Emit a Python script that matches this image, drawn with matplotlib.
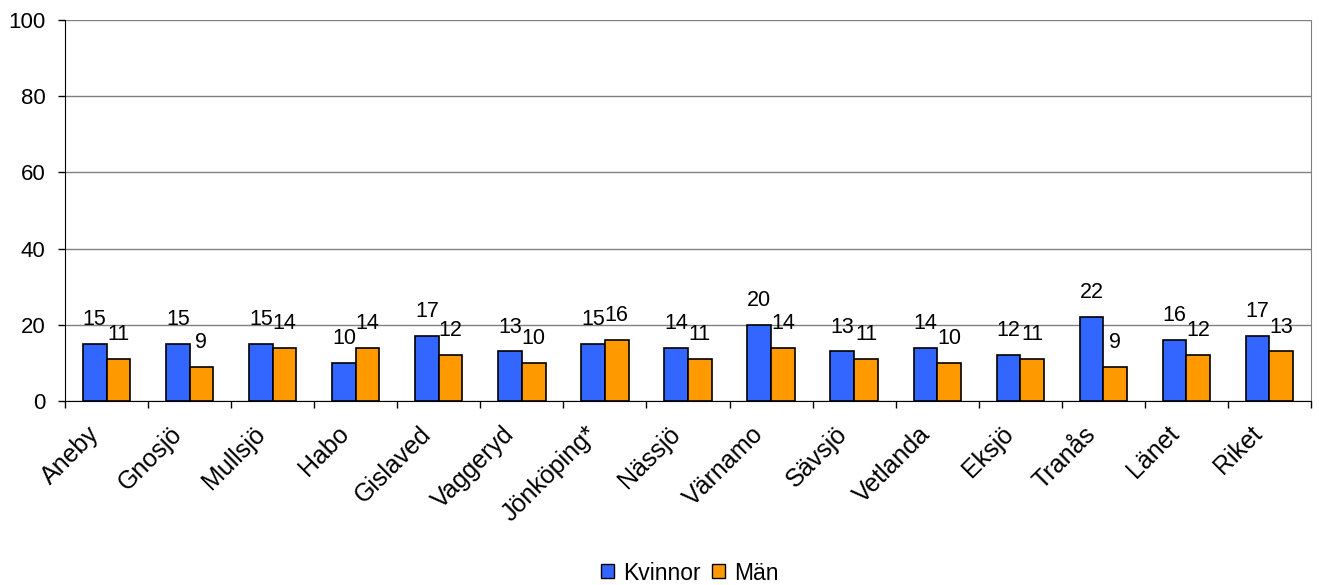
import numpy as np
import matplotlib
matplotlib.use("Agg")
import matplotlib.pyplot as plt
import matplotlib.transforms as mtransforms
from matplotlib.patches import Patch

plt.rcParams['font.family'] = ['Liberation Sans', 'DejaVu Sans']

kommuner = ["Aneby", "Gnosjö", "Mullsjö", "Habo", "Gislaved", "Vaggeryd",
            "Jönköping*", "Nässjö", "Värnamo", "Sävsjö", "Vetlanda", "Eksjö",
            "Tranås", "Länet", "Riket"]
kvinnor = [15, 15, 15, 10, 17, 13, 15, 14, 20, 13, 14, 12, 22, 16, 17]
man = [11, 9, 14, 14, 12, 10, 16, 11, 14, 11, 10, 11, 9, 12, 13]

blue = "#3366FF"
orange = "#FF9900"

fig = plt.figure(figsize=(13.19, 5.85), dpi=100)
ax = fig.add_axes([65/1319, 1 - 401/585, (1311-65)/1319, (401-20)/585])

x = np.arange(len(kommuner))
w = 0.285
b1 = ax.bar(x - w/2, kvinnor, w, color=blue, edgecolor="black", linewidth=1.2, zorder=3)
b2 = ax.bar(x + w/2, man, w, color=orange, edgecolor="black", linewidth=1.2, zorder=3)

# value labels above the bars
for bars, vals in ((b1, kvinnor), (b2, man)):
    for r, v in zip(bars, vals):
        ax.annotate(str(v), (r.get_x() + r.get_width()/2, r.get_height()),
                    xytext=(0, 10), textcoords="offset points",
                    ha="center", va="bottom", fontsize=15.5)

ax.set_xlim(-0.5, len(kommuner) - 0.5)
ax.set_ylim(0, 100)
ax.set_yticks(range(0, 101, 20))
ax.yaxis.grid(True, color="#808080", linewidth=1)
ax.set_axisbelow(True)

ax.set_xticks(x)
ax.set_xticklabels(kommuner, rotation=45, ha="right", va="center",
                   rotation_mode="anchor", fontsize=18)
ax.tick_params(axis="x", which="major", length=0, pad=21)
shift = mtransforms.ScaledTranslation(-11/100, 0, fig.dpi_scale_trans)
for lbl in ax.get_xticklabels():
    lbl.set_transform(lbl.get_transform() + shift)
ax.set_xticks(np.arange(-0.5, len(kommuner)), minor=True)
ax.tick_params(axis="x", which="minor", length=5, width=1, color="black", direction="out")
ax.tick_params(axis="y", labelsize=16, length=5, width=1, direction="out", pad=9)

ax.spines["top"].set_visible(False)
ax.spines["right"].set_color("#808080")
ax.spines["left"].set_color("black")
ax.spines["bottom"].set_color("black")

handles = [Patch(facecolor=blue, edgecolor="black", label="Kvinnor"),
           Patch(facecolor=orange, edgecolor="black", label="Män")]
fig.legend(handles=handles, loc="center", bbox_to_anchor=(690/1319, 1 - 573/585), ncol=2,
           frameon=False, fontsize=16.5, handlelength=0.57, handleheight=0.57,
           handletextpad=0.39, columnspacing=0.5, borderpad=0)

plt.savefig("out.png", dpi=100)
